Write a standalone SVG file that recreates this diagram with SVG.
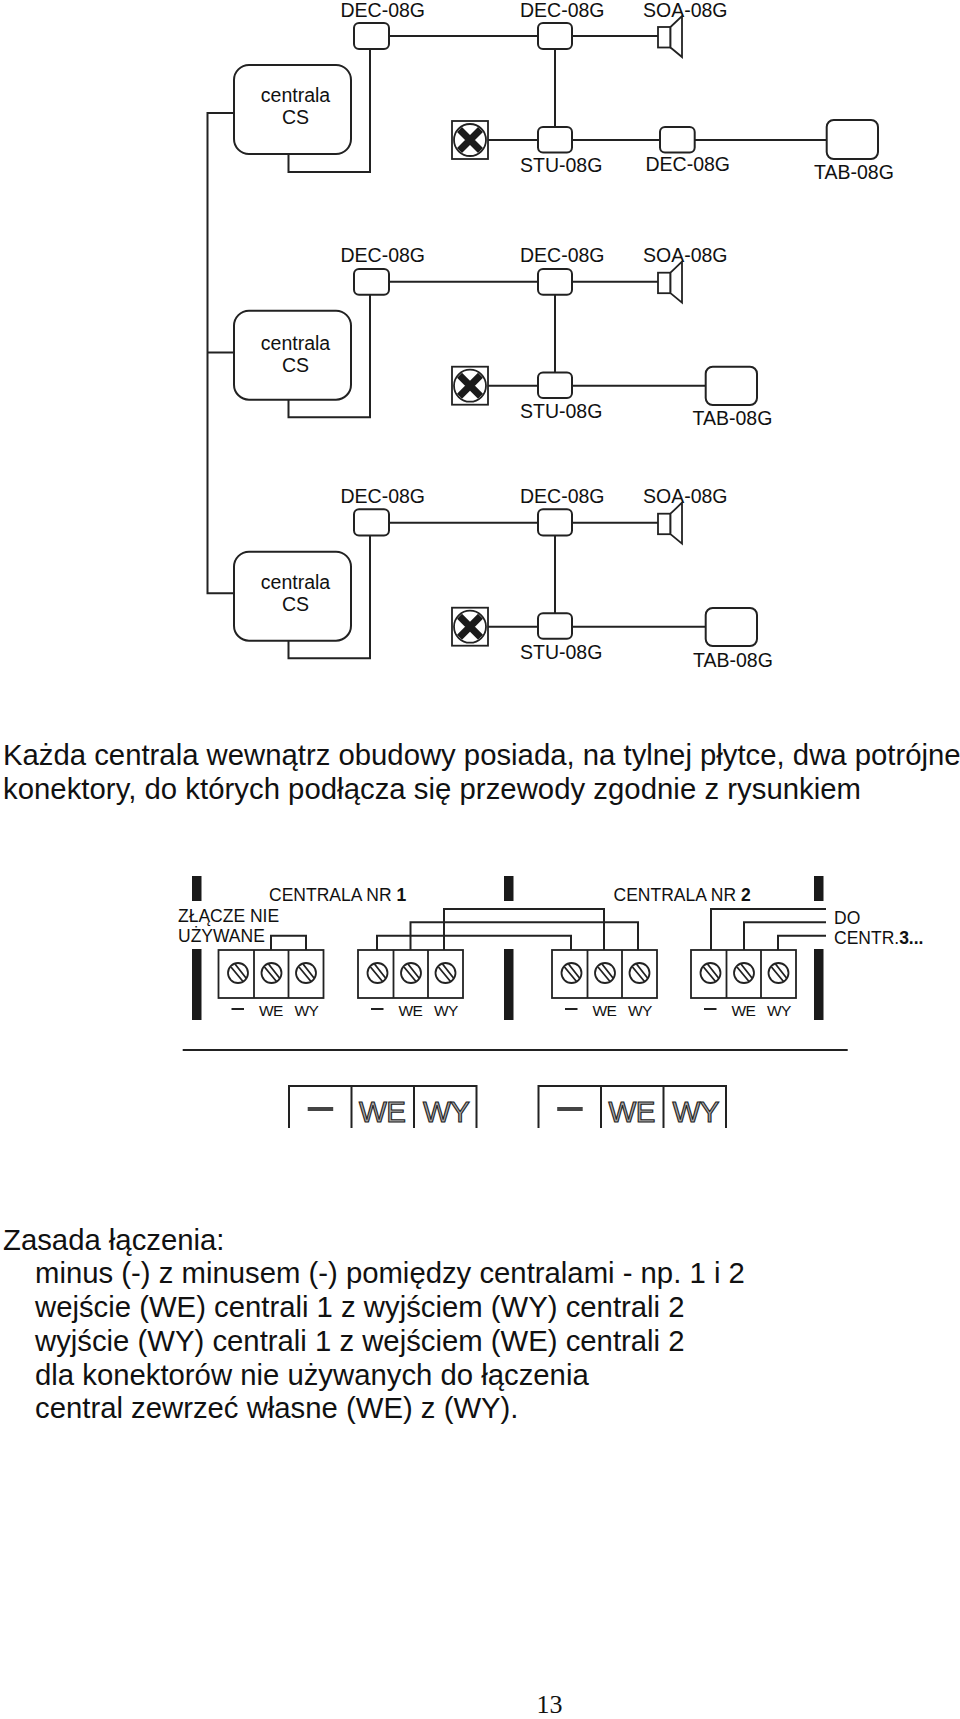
<svg xmlns="http://www.w3.org/2000/svg" xmlns:xlink="http://www.w3.org/1999/xlink" width="960" height="1719" viewBox="0 0 960 1719">
<style>
text{font-family:"Liberation Sans",Arial,sans-serif;fill:#111}
.l{font-size:19.5px}
.p{font-size:29.3px}
.s{font-size:17.5px}
.t{font-size:15.5px;letter-spacing:-.6px}
.b{font-size:29.5px;fill:#aaa;stroke:#222;stroke-width:1.1px;letter-spacing:-.5px}
.w,.n{fill:none;stroke:#222;stroke-width:2}
.n{fill:#fff}
.thin{fill:#fff;stroke:#222;stroke-width:1.8}
.bar{fill:#1a1a1a;stroke:none}
</style>
<defs>
<g id="lamp"><rect class="thin" x="452" y="121" width="36" height="38"/><circle class="thin" cx="470" cy="140" r="16"/><path d="M459.500 129.500L480.500 150.500M480.500 129.500L459.500 150.500" fill="none" stroke="#1a1a1a" stroke-width="7"/></g>
<g id="spk"><rect class="thin" x="658" y="27" width="12.5" height="20.5"/><path class="thin" d="M670.5 27L682 16V57L670.5 47.5Z"/></g>
<g id="screw"><circle class="thin" r="10"/><path d="M-7-6L5 8.500M-3-9L8 5" fill="none" stroke="#222" stroke-width="1.8"/></g>
<g id="blk"><rect class="thin" x="0" y="0" width="105" height="48"/><path class="thin" d="M35.500 0V48M70 0V48"/><use xlink:href="#screw" x="19.500" y="23"/><use xlink:href="#screw" x="53" y="23"/><use xlink:href="#screw" x="87.500" y="23"/></g>
<g id="big"><path class="w" d="M0 42V0H187.500V42M62.500 0V42M125 0V42"/><rect x="18.700" y="21" width="25.500" height="4" fill="#444"/><text class="b" x="70" y="36">WE</text><text class="b" x="134" y="36">WY</text></g>
<g id="term"><rect x="13" y="58" width="12.500" height="2" fill="#222"/><text class="t" x="40.500" y="66">WE</text><text class="t" x="76" y="66">WY</text></g>
</defs>

<g id="connectors">
<path class="w" d="M234 113H207.500V593.300H234M207.500 352.500H234"/>
<path class="w" d="M288.500 154V172H370V36H658M555 36V140M488 140H826.700"/>
<path class="w" d="M288.500 399.700V417.300H370V281.700H658M555 281.700V385.700M488 385.700H705.700"/>
<path class="w" d="M288.500 640.700V658.300H370V522.700H658M555 522.700V626.700M488 626.700H705.700"/>
<path class="w" d="M271 963V935.700H306V963M377 963V935.700H571V963M410.500 963V922.300H638V963M444 963V909H604V963M711 963V909H826M744 963V922.300H826M778 963V935.700H826"/>
<path class="w" d="M182.700 1050H847.700"/>
</g>

<g id="panel1">
<g id="cs1"><rect class="n" x="234" y="65" width="117" height="89" rx="15"/><text class="l" x="295.500" y="102" text-anchor="middle">centrala</text><text class="l" x="295.500" y="123.500" text-anchor="middle">CS</text></g>
<g id="dec1a"><rect class="n" x="354" y="23" width="35" height="26" rx="5"/><text class="l" x="340.500" y="16.500">DEC-08G</text></g>
<g id="dec1b"><rect class="n" x="538" y="23" width="34" height="26" rx="5"/><text class="l" x="520" y="16.500">DEC-08G</text></g>
<g id="soa1"><use xlink:href="#spk"/><text class="l" x="643" y="16.500">SOA-08G</text></g>
<g id="lamp1"><use xlink:href="#lamp"/></g>
<g id="stu1"><rect class="n" x="538" y="127" width="34" height="25.500" rx="5"/><text class="l" x="520" y="171.500">STU-08G</text></g>
<g id="dec1c"><rect class="n" x="660" y="127" width="34.700" height="25.500" rx="5"/><text class="l" x="645.500" y="171">DEC-08G</text></g>
<g id="tab1"><rect class="n" x="826.700" y="120" width="51.300" height="39" rx="7"/><text class="l" x="814" y="178.500">TAB-08G</text></g>
</g>

<g id="panel2">
<g id="cs2"><rect class="n" x="234" y="310.700" width="117" height="89" rx="15"/><text class="l" x="295.500" y="350" text-anchor="middle">centrala</text><text class="l" x="295.500" y="371.700" text-anchor="middle">CS</text></g>
<g id="dec2a"><rect class="n" x="354" y="269" width="35" height="25.700" rx="5"/><text class="l" x="340.500" y="261.700">DEC-08G</text></g>
<g id="dec2b"><rect class="n" x="538" y="269" width="34" height="25.700" rx="5"/><text class="l" x="520" y="261.700">DEC-08G</text></g>
<g id="soa2"><use xlink:href="#spk" y="245.700"/><text class="l" x="643" y="261.700">SOA-08G</text></g>
<g id="lamp2"><use xlink:href="#lamp" y="245.700"/></g>
<g id="stu2"><rect class="n" x="538" y="372.500" width="34" height="25.500" rx="5"/><text class="l" x="520" y="417.700">STU-08G</text></g>
<g id="tab2"><rect class="n" x="705.700" y="366.700" width="51.300" height="38.300" rx="7"/><text class="l" x="692.500" y="425">TAB-08G</text></g>
</g>

<g id="panel3">
<g id="cs3"><rect class="n" x="234" y="551.700" width="117" height="89" rx="15"/><text class="l" x="295.500" y="589.300" text-anchor="middle">centrala</text><text class="l" x="295.500" y="610.700" text-anchor="middle">CS</text></g>
<g id="dec3a"><rect class="n" x="354" y="509.300" width="35" height="26.300" rx="5"/><text class="l" x="340.500" y="503.300">DEC-08G</text></g>
<g id="dec3b"><rect class="n" x="538" y="509.300" width="34" height="26.300" rx="5"/><text class="l" x="520" y="503.300">DEC-08G</text></g>
<g id="soa3"><use xlink:href="#spk" y="486.700"/><text class="l" x="643" y="503.300">SOA-08G</text></g>
<g id="lamp3"><use xlink:href="#lamp" y="486.700"/></g>
<g id="stu3"><rect class="n" x="538" y="613.300" width="34" height="25.500" rx="5"/><text class="l" x="520" y="659.300">STU-08G</text></g>
<g id="tab3"><rect class="n" x="705.700" y="608" width="51.300" height="38" rx="7"/><text class="l" x="693" y="666.700">TAB-08G</text></g>
</g>

<g id="para1"><text class="p" x="3" y="765">Każda centrala wewnątrz obudowy posiada, na tylnej płytce, dwa potrójne</text><text class="p" x="3" y="798.500" textLength="858">konektory, do których podłącza się przewody zgodnie z rysunkiem</text></g>

<g id="bars">
<rect class="bar" x="192" y="876" width="9.500" height="25"/><rect class="bar" x="192" y="949" width="9.500" height="71"/>
<rect class="bar" x="504" y="876" width="9.500" height="25"/><rect class="bar" x="504" y="949" width="9.500" height="71"/>
<rect class="bar" x="814" y="876" width="9.500" height="25"/><rect class="bar" x="814" y="949" width="9.500" height="71"/>
</g>
<g id="block1"><use xlink:href="#blk" x="218.500" y="950"/><use xlink:href="#term" x="218.500" y="950"/></g>
<g id="block2"><use xlink:href="#blk" x="358" y="950"/><use xlink:href="#term" x="358" y="950"/></g>
<g id="block3"><use xlink:href="#blk" x="552" y="950"/><use xlink:href="#term" x="552" y="950"/></g>
<g id="block4"><use xlink:href="#blk" x="691" y="950"/><use xlink:href="#term" x="691" y="950"/></g>
<g id="labels">
<text class="s" x="269" y="901">CENTRALA NR <tspan font-weight="bold">1</tspan></text>
<text class="s" x="178" y="921.500">ZŁĄCZE NIE</text><text class="s" x="178" y="941.500">UŻYWANE</text>
<text class="s" x="613.500" y="901">CENTRALA NR <tspan font-weight="bold">2</tspan></text>
<text class="s" x="834" y="924">DO</text><text class="s" x="834" y="944">CENTR.<tspan font-weight="bold">3...</tspan></text>
</g>
<g id="big1"><use xlink:href="#big" x="289" y="1086"/></g>
<g id="big2"><use xlink:href="#big" x="538.500" y="1086"/></g>

<g id="para2">
<text class="p" x="3" y="1250">Zasada łączenia:</text>
<text class="p" x="35" y="1283">minus (-) z minusem (-) pomiędzy centralami - np. 1 i 2</text>
<text class="p" x="35" y="1317">wejście (WE) centrali 1 z wyjściem (WY) centrali 2</text>
<text class="p" x="35" y="1350.500">wyjście (WY) centrali 1 z wejściem (WE) centrali 2</text>
<text class="p" x="35" y="1384.500">dla konektorów nie używanych do łączenia</text>
<text class="p" x="35" y="1418">central zewrzeć własne (WE) z (WY).</text>
</g>
<text id="page" x="536.500" y="1713" style="font-family:'Liberation Serif',serif;font-size:26px">13</text>
</svg>
